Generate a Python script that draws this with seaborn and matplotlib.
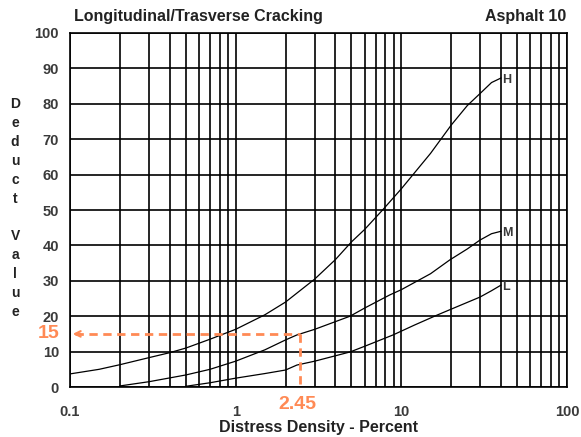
import numpy as np
import pandas as pd
import seaborn as sns
import matplotlib.pyplot as plt
from matplotlib.ticker import LogLocator, NullFormatter, FixedLocator

# =========================
# DATA
# =========================

h_density = [0.1, 0.15, 0.2, 0.3, 0.4, 0.5, 0.7, 1, 1.5, 2, 3, 4, 5, 6, 7.7,
             10, 15, 20, 25, 30, 35, 40]
h_deduct = [3.7, 5.0, 6.3, 8.3, 9.7, 11, 13.5, 16.3, 20.4, 24, 30.5, 36, 41,
            44.5, 50, 56, 66, 74, 79.5, 83, 86, 87.3]

m_density = [0.2, 0.3, 0.5, 0.7, 1, 1.5, 2, 2.34, 3, 4.9, 6, 8.5, 10, 15,
             19.6, 25, 29.8, 35, 40]
m_deduct = [0.3, 1.5, 3.4, 5.0, 7.3, 10.5, 13.3, 14.7, 16.3, 20, 22.3, 26,
            27.5, 32, 35.9, 39, 41.5, 43.3, 44]

l_density = [0.5, 0.7, 1, 1.5, 2, 2.34, 3, 4.9, 6, 8.9, 12, 16.4, 20, 29.8,
             35, 40]
l_deduct = [0.2, 1.2, 2.5, 3.8, 4.8, 6.2, 7.3, 9.9, 11.5, 14.7, 17.5, 20.3,
            22, 25.4, 27.2, 28.8]

curve_names = ["H", "M", "L"]

read_value = 15
read_density = 2.45

x_ticks = [0.1, 1, 10, 100]
x_ticklabels = ["0.1", "1", "10", "100"]
y_ticks = list(range(0, 101, 10))

orange = "#FF8A55"
grey = "#3A3A3A"

df = pd.concat([
    pd.DataFrame({"density": h_density, "deduct": h_deduct, "curve": "H"}),
    pd.DataFrame({"density": m_density, "deduct": m_deduct, "curve": "M"}),
    pd.DataFrame({"density": l_density, "deduct": l_deduct, "curve": "L"}),
], ignore_index=True)

# =========================
# PLOT
# =========================

sns.set_style("white")
plt.rcParams["font.family"] = ["Liberation Sans", "DejaVu Sans"]

fig = plt.figure(figsize=(5.81, 4.37), dpi=100)
ax = fig.add_axes([0.1205, 0.1144, 0.8555, 0.8101])

ax.set_xscale("log")
ax.set_xlim(0.1, 100)
ax.set_ylim(0, 100)

# grid: every log minor tick, every 10 on y
ax.xaxis.set_minor_locator(LogLocator(base=10, subs=np.arange(2, 10)))
ax.xaxis.set_minor_formatter(NullFormatter())
ax.xaxis.set_major_locator(FixedLocator(x_ticks))
ax.set_xticks(x_ticks)
ax.set_xticklabels(x_ticklabels)
ax.set_yticks(y_ticks)
ax.grid(True, which="both", axis="x", color="black", lw=1.2)
ax.grid(True, which="major", axis="y", color="black", lw=1.2)
ax.set_axisbelow(True)

sns.lineplot(data=df, x="density", y="deduct", units="curve", estimator=None,
             color="black", lw=0.9, ax=ax, legend=False)

for name, xs, ys in [("H", h_density, h_deduct), ("M", m_density, m_deduct),
                     ("L", l_density, l_deduct)]:
    ax.text(xs[-1] * 1.02, ys[-1] - 0.5, name, fontsize=9, fontweight="bold",
            color=grey, va="center", ha="left")

# reading lines
ax.plot([0.107, read_density], [read_value, read_value], ls=(0, (3, 2)),
        color=orange, lw=2, clip_on=False)
ax.plot([read_density, read_density], [read_value, 0], ls=(0, (3, 2)),
        color=orange, lw=2, clip_on=False)
ax.annotate("", xy=(0.1, read_value), xytext=(0.12, read_value),
            arrowprops=dict(arrowstyle="->", color=orange, lw=1.5,
                            mutation_scale=10))
ax.text(-0.022, read_value, "15", transform=ax.get_yaxis_transform(),
        color=orange, fontsize=14, fontweight="bold", ha="right", va="center")
ax.text(read_density * 0.96, -0.025, "2.45", transform=ax.get_xaxis_transform(),
        color=orange, fontsize=14, fontweight="bold", ha="center", va="top")

for s in ax.spines.values():
    s.set_color("black")
    s.set_linewidth(1.2)

ax.tick_params(axis="both", which="major", length=5, width=1.2, color="black",
               labelsize=10.5, labelcolor=grey, direction="out")
ax.tick_params(axis="x", which="major", pad=8)
ax.tick_params(axis="y", which="major", pad=3)
ax.tick_params(axis="x", which="minor", length=0)
for lab in ax.get_xticklabels() + ax.get_yticklabels():
    lab.set_fontweight("bold")

ax.set_xlabel("Distress Density - Percent", fontsize=11.5, fontweight="bold",
              color="#222222", labelpad=1)
ax.set_ylabel("")

fig.text(0.026, 0.524, "D\ne\nd\nu\nc\nt\n\nV\na\nl\nu\ne", fontsize=10,
         fontweight="bold", color="#222222", ha="center", va="center",
         linespacing=1.45)

fig.text(0.128, 0.962, "Longitudinal/Trasverse Cracking", fontsize=11.5,
         fontweight="bold", color="#222222", ha="left", va="center")
fig.text(0.975, 0.962, "Asphalt 10", fontsize=11.5, fontweight="bold",
         color="#222222", ha="right", va="center")

plt.savefig("out.png", dpi=100)
